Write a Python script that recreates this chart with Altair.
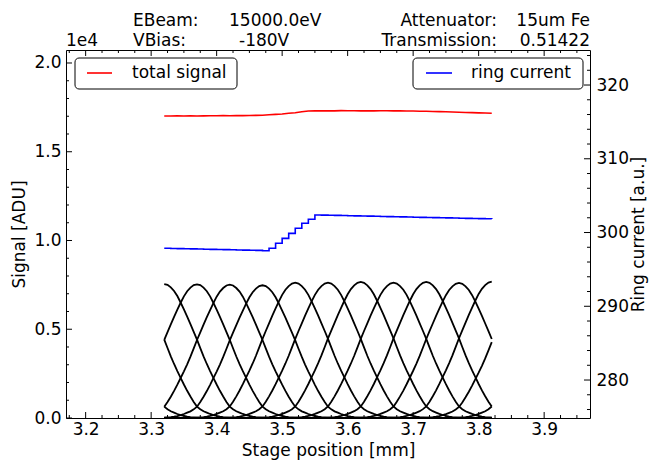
import altair as alt
import pandas as pd

# ---- scan data -------------------------------------------------------------
POSITIONS = [3.32, 3.33, 3.34, 3.35, 3.36, 3.37, 3.38, 3.39, 3.40, 3.41,
             3.42, 3.43, 3.44, 3.45, 3.46, 3.47, 3.48, 3.49, 3.50, 3.51,
             3.52, 3.53, 3.54, 3.55, 3.56, 3.57, 3.58, 3.59, 3.60, 3.61,
             3.62, 3.63, 3.64, 3.65, 3.66, 3.67, 3.68, 3.69, 3.70, 3.71,
             3.72, 3.73, 3.74, 3.75, 3.76, 3.77, 3.78, 3.79, 3.80, 3.81,
             3.82]

TOTAL_SIGNAL = [17015, 17010, 17020, 17012, 17025, 17018, 17022, 17030, 17028, 17035,
                17030, 17040, 17036, 17045, 17050, 17056, 17080, 17105, 17125, 17165,
                17200, 17250, 17295, 17305, 17300, 17312, 17305, 17315, 17308, 17312,
                17300, 17310, 17304, 17312, 17306, 17300, 17308, 17298, 17296, 17285,
                17280, 17268, 17262, 17250, 17242, 17228, 17215, 17205, 17190, 17180,
                17166]

RING_CURRENT = [297.86, 297.84, 297.82, 297.80, 297.78, 297.76, 297.74, 297.72, 297.70, 297.68,
                297.66, 297.64, 297.62, 297.60, 297.58, 297.53, 297.86, 298.54, 299.21, 299.89,
                300.57, 301.25, 301.79, 302.37, 302.36, 302.34, 302.32, 302.30, 302.28, 302.26,
                302.24, 302.22, 302.20, 302.18, 302.16, 302.14, 302.12, 302.10, 302.08, 302.06,
                302.04, 302.02, 302.00, 301.98, 301.96, 301.94, 301.92, 301.90, 301.88, 301.86,
                301.84]

# channel read-out positions (finer grid than the scan summary)
CURVE_STEP = 0.005
CURVE_POSITIONS = [3.320, 3.325, 3.330, 3.335, 3.340, 3.345, 3.350, 3.355, 3.360, 3.365,
                   3.370, 3.375, 3.380, 3.385, 3.390, 3.395, 3.400, 3.405, 3.410, 3.415,
                   3.420, 3.425, 3.430, 3.435, 3.440, 3.445, 3.450, 3.455, 3.460, 3.465,
                   3.470, 3.475, 3.480, 3.485, 3.490, 3.495, 3.500, 3.505, 3.510, 3.515,
                   3.520, 3.525, 3.530, 3.535, 3.540, 3.545, 3.550, 3.555, 3.560, 3.565,
                   3.570, 3.575, 3.580, 3.585, 3.590, 3.595, 3.600, 3.605, 3.610, 3.615,
                   3.620, 3.625, 3.630, 3.635, 3.640, 3.645, 3.650, 3.655, 3.660, 3.665,
                   3.670, 3.675, 3.680, 3.685, 3.690, 3.695, 3.700, 3.705, 3.710, 3.715,
                   3.720, 3.725, 3.730, 3.735, 3.740, 3.745, 3.750, 3.755, 3.760, 3.765,
                   3.770, 3.775, 3.780, 3.785, 3.790, 3.795, 3.800, 3.805, 3.810, 3.815,
                   3.820]

# detector channels: centre position [mm] and peak signal [ADU]
CHANNEL_CENTERS = [3.17, 3.22, 3.27, 3.32, 3.37, 3.42, 3.47, 3.52, 3.57,
                   3.62, 3.67, 3.72, 3.77, 3.82, 3.87, 3.92, 3.97]
CHANNEL_PEAKS = [7540, 7540, 7550, 7549, 7532, 7510, 7476, 7622, 7622,
                 7662, 7622, 7662, 7606, 7679, 7300, 7600, 7600]
# relative channel response vs. distance from its centre, in 0.005 mm steps
PROFILE = [1.0, 0.994, 0.975, 0.948, 0.91, 0.862, 0.81, 0.757, 0.70, 0.643,
           0.585, 0.522, 0.46, 0.403, 0.35, 0.30, 0.25, 0.203, 0.16, 0.12,
           0.085, 0.065, 0.05, 0.04, 0.03, 0.022, 0.015, 0.01, 0.006, 0.004,
           0.002]

# ---- axis ticks ------------------------------------------------------------
X_MAJOR = [3.2, 3.3, 3.4, 3.5, 3.6, 3.7, 3.8, 3.9]
X_MINOR = [3.175, 3.225, 3.25, 3.275, 3.325, 3.35, 3.375, 3.425, 3.45, 3.475,
           3.525, 3.55, 3.575, 3.625, 3.65, 3.675, 3.725, 3.75, 3.775, 3.825,
           3.85, 3.875, 3.925, 3.95]
SIG_MAJOR = [0, 5000, 10000, 15000, 20000]
SIG_MINOR = [1000, 2000, 3000, 4000, 6000, 7000, 8000, 9000, 11000, 12000,
             13000, 14000, 16000, 17000, 18000, 19000]
RING_MAJOR = [280, 290, 300, 310, 320]
RING_MINOR = [276, 278, 282, 284, 286, 288, 292, 294, 296, 298, 302, 304,
              306, 308, 312, 314, 316, 318, 322, 324]

HEADER_LEFT = ["EBeam:", "15000.0eV", "1e4", "VBias:", "-180V"]
HEADER_RIGHT = ["Attenuator:", "15um Fe", "Transmission:", "0.51422"]

# ---- layout ----------------------------------------------------------------
W, H = 524, 368
FONT = "DejaVu Sans"
FS = 17
MAJ, MIN = 6, 3
HEADER_LEFT_POS = [(67, -24), (163, -24), (0, -4), (67, -4), (173, -4)]
HEADER_RIGHT_POS = [(431, -24), (524, -24), (431, -4), (524, -4)]

x_scale = alt.Scale(domain=[3.17, 3.97], nice=False, zero=False)
sig_scale = alt.Scale(domain=[0, 20732], nice=False, zero=False)
ring_scale = alt.Scale(domain=[274.85, 324.75], nice=False, zero=False)

# per-channel signal curves
rows = []
for ch, (c, peak) in enumerate(zip(CHANNEL_CENTERS, CHANNEL_PEAKS)):
    for x in CURVE_POSITIONS:
        k = int(round(abs(x - c) / CURVE_STEP))
        v = peak * PROFILE[k] if k < len(PROFILE) else 0.0
        rows.append({"pos": x, "signal": v, "channel": ch})
channels = pd.DataFrame(rows)

scan = pd.DataFrame({"pos": POSITIONS, "total": TOTAL_SIGNAL, "ring": RING_CURRENT})

x_axis = alt.Axis(values=X_MAJOR, format=".1f", title="Stage position [mm]",
                  ticks=False, tickSize=0, domain=False, grid=False,
                  labelPadding=3, titlePadding=5)
sig_axis = alt.Axis(values=SIG_MAJOR, labelExpr="format(datum.value / 10000, '.1f')",
                    title="Signal [ADU]", ticks=False, tickSize=0, domain=False,
                    grid=False, labelPadding=5, titlePadding=5)
ring_axis = alt.Axis(values=RING_MAJOR, orient="right", title="Ring current [a.u.]",
                     ticks=False, tickSize=0, domain=False, grid=False,
                     labelPadding=6, titlePadding=2, titleAngle=270,
                     titleBaseline="top")

curves = alt.Chart(channels).mark_line(color="black", strokeWidth=1.8).encode(
    x=alt.X("pos:Q", scale=x_scale, axis=x_axis),
    y=alt.Y("signal:Q", scale=sig_scale, axis=sig_axis),
    detail="channel:N",
)
total = alt.Chart(scan).mark_line(color="#ff0000", strokeWidth=1.6).encode(
    x=alt.X("pos:Q", scale=x_scale, axis=x_axis),
    y=alt.Y("total:Q", scale=sig_scale, axis=sig_axis),
)
ring = alt.Chart(scan).mark_line(color="#0000ff", strokeWidth=1.6,
                                 interpolate="step-after").encode(
    x=alt.X("pos:Q", scale=x_scale, axis=x_axis),
    y=alt.Y("ring:Q", scale=ring_scale, axis=ring_axis),
)


def xticks(values, length):
    df = pd.DataFrame({"pos": values})
    xe = alt.X("pos:Q", scale=x_scale, axis=x_axis)
    bottom = alt.Chart(df).mark_rule(color="black", strokeWidth=1).encode(
        x=xe, y=alt.value(H), y2=alt.value(H - length))
    top = alt.Chart(df).mark_rule(color="black", strokeWidth=1).encode(
        x=xe, y=alt.value(0), y2=alt.value(length))
    return [bottom, top]


def yticks(values, length, field, scale, axis, right):
    df = pd.DataFrame({field: values})
    x0 = W if right else 0
    x1 = W - length if right else length
    return alt.Chart(df).mark_rule(color="black", strokeWidth=1).encode(
        y=alt.Y(f"{field}:Q", scale=scale, axis=axis), x=alt.value(x0), x2=alt.value(x1))


left_group = alt.layer(
    curves, total,
    yticks(SIG_MAJOR, MAJ, "signal", sig_scale, sig_axis, False),
    yticks(SIG_MINOR, MIN, "signal", sig_scale, sig_axis, False),
    *xticks(X_MAJOR, MAJ), *xticks(X_MINOR, MIN),
)
right_group = alt.layer(
    ring,
    yticks(RING_MAJOR, MAJ, "ring", ring_scale, ring_axis, True),
    yticks(RING_MINOR, MIN, "ring", ring_scale, ring_axis, True),
)

# legends
one = pd.DataFrame({"k": [0]})


def legend_box(x0, x1, color, lx0, lx1, tx, label):
    box = alt.Chart(one).mark_rect(fill="white", stroke="black", strokeWidth=1,
                                   cornerRadius=4).encode(
        x=alt.value(x0), x2=alt.value(x1), y=alt.value(8), y2=alt.value(39))
    sample = alt.Chart(one).mark_rule(color=color, strokeWidth=1.6).encode(
        x=alt.value(lx0), x2=alt.value(lx1), y=alt.value(23))
    text = alt.Chart(one).mark_text(align="left", baseline="middle", font=FONT,
                                    fontSize=FS, color="black", text=label).encode(
        x=alt.value(tx), y=alt.value(23))
    return [box, sample, text]


hl = pd.DataFrame({"t": HEADER_LEFT,
                   "px": [p[0] for p in HEADER_LEFT_POS],
                   "py": [p[1] for p in HEADER_LEFT_POS]})
hr = pd.DataFrame({"t": HEADER_RIGHT,
                   "px": [p[0] for p in HEADER_RIGHT_POS],
                   "py": [p[1] for p in HEADER_RIGHT_POS]})
header_l = alt.Chart(hl).mark_text(align="left", baseline="alphabetic", font=FONT,
                                   fontSize=FS, color="black").encode(
    x=alt.X("px:Q", scale=None), y=alt.Y("py:Q", scale=None), text="t:N")
header_r = alt.Chart(hr).mark_text(align="right", baseline="alphabetic", font=FONT,
                                   fontSize=FS, color="black").encode(
    x=alt.X("px:Q", scale=None), y=alt.Y("py:Q", scale=None), text="t:N")

plot = alt.layer(left_group, right_group).resolve_scale(y="independent")

chart = alt.layer(
    plot,
    *legend_box(9, 171, "#ff0000", 21, 46, 66, "total signal"),
    *legend_box(347, 517, "#0000ff", 360, 386, 405, "ring current"),
    header_l, header_r,
).properties(
    width=W, height=H,
    autosize=alt.AutoSizeParams(type="none"),
    padding={"left": 66, "top": 50, "right": 59, "bottom": 45},
).configure_view(stroke="black", strokeWidth=1).configure_axis(
    labelFont=FONT, labelFontSize=FS, labelColor="black",
    titleFont=FONT, titleFontSize=FS, titleColor="black", titleFontWeight="normal",
)

chart.save("out.html", embed_options={"renderer": "svg", "actions": False})
